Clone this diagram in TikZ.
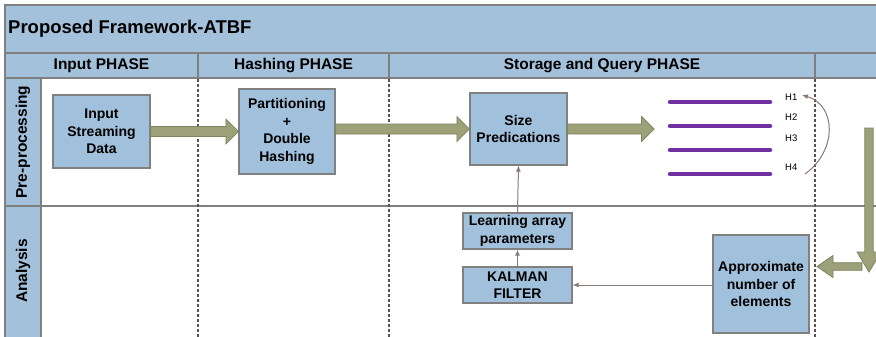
\documentclass[tikz,border=0pt]{standalone}
\usepackage{fontspec}
\setmainfont{Liberation Sans}
\usetikzlibrary{arrows.meta,calc}
\definecolor{hdr}{HTML}{A3C1DA}
\definecolor{boxfill}{HTML}{A0C0DC}
\definecolor{framec}{HTML}{808080}
\definecolor{olivef}{HTML}{9CA17A}
\definecolor{olived}{HTML}{7E8460}
\definecolor{dashc}{HTML}{5E5050}
\definecolor{thinc}{HTML}{8A7A76}
\definecolor{purp}{HTML}{7030A0}
% fat block arrows (from #1 to #2)
\newcommand\fatright[2]{\path[fatarr] let \p1=(#1),\p2=(#2) in
  (\x1,\y2+5pt) -- (\x2-12.5pt,\y2+5pt) -- (\x2-12.5pt,\y2+12.5pt) -- (\x2,\y2)
  -- (\x2-12.5pt,\y2-12.5pt) -- (\x2-12.5pt,\y2-5pt) -- (\x1,\y2-5pt) -- cycle;}
\newcommand\fatleft[2]{\path[fatarr] let \p1=(#1),\p2=(#2) in
  (\x1,\y2+3.8pt) -- (\x2+16pt,\y2+3.8pt) -- (\x2+16pt,\y2+11pt) -- (\x2,\y2)
  -- (\x2+16pt,\y2-11pt) -- (\x2+16pt,\y2-3.8pt) -- (\x1,\y2-3.8pt) -- cycle;}
\newcommand\fatdown[2]{\path[fatarr] let \p1=(#1),\p2=(#2) in
  (\x2-4.2pt,\y1) -- (\x2-4.2pt,\y2+20pt) -- (\x2-12pt,\y2+20pt) -- (\x2,\y2)
  -- (\x2+12pt,\y2+20pt) -- (\x2+4.2pt,\y2+20pt) -- (\x2+4.2pt,\y1) -- cycle;}
\begin{document}
\begin{tikzpicture}[x=1pt,y=-1pt,
  procbox/.style={draw=framec, line width=1.2pt, fill=boxfill, align=center,
    font=\fontsize{14}{17.5}\selectfont\bfseries, inner sep=0pt},
  phaselbl/.style={font=\fontsize{15.5}{18}\selectfont\bfseries},
  lanelbl/.style={font=\fontsize{15.5}{18}\selectfont\bfseries, rotate=90},
  hlbl/.style={font=\fontsize{9.5}{11}\selectfont, inner sep=0pt, anchor=west},
  fatarr/.style={fill=olivef, draw=olived, line width=0.8pt},
  thinarr/.style={draw=thinc, line width=1pt, -{Latex[length=6pt,width=5pt]}},
  lanediv/.style={draw=dashc, line width=2pt, dash pattern=on 3pt off 2pt},
  frameline/.style={draw=framec, line width=1.2pt},
  purpline/.style={draw=purp, line width=4.5pt, line cap=round}]
\useasboundingbox (0,0) rectangle (876,337);
\fill[white] (0,0) rectangle (876,337);
% frame
\path[fill=hdr, frameline] (5,5) rectangle (882,53);
\path[fill=hdr, frameline] (5,53) rectangle (882,78);
\path[fill=hdr, frameline] (5,78) rectangle (41,342);
\draw[frameline] (5,206) -- (882,206);
\draw[frameline] (198,53) -- (198,78);
\draw[frameline] (389,53) -- (389,78);
\draw[frameline] (815,53) -- (815,78);
\draw[lanediv] (198,79) -- (198,337);
\draw[lanediv] (389,79) -- (389,337);
\draw[lanediv] (815,79) -- (815,337);
% texts
\node[anchor=west, font=\fontsize{18.5}{20}\selectfont\bfseries, inner sep=0pt] (title) at (8,29) {Proposed Framework-ATBF};
\node[phaselbl] (ph1) at (101.5,66) {Input PHASE};
\node[phaselbl] (ph2) at (293.5,66) {Hashing PHASE};
\node[phaselbl] (ph3) at (602,66) {Storage and Query PHASE};
\node[lanelbl] (ln1) at (23,142) {Pre-processing};
\node[lanelbl] (ln2) at (23,271) {Analysis};
% boxes
\node[procbox, minimum width=97, minimum height=73] (inp) at (101.5,131.5) {Input\\Streaming\\Data};
\node[procbox, minimum width=96, minimum height=85] (part) at (287,131.5) {Partitioning\\+\\Double\\Hashing};
\node[procbox, minimum width=97, minimum height=72] (size) at (518.5,129) {Size\\Predications};
\node[procbox, minimum width=109, minimum height=36] (learn) at (517.5,231) {Learning array\\parameters};
\node[procbox, minimum width=109, minimum height=36] (kal) at (517.5,285) {KALMAN\\FILTER};
\node[procbox, minimum width=96, minimum height=98] (approx) at (761,284) {Approximate\\number of\\elements};
% hash lines
\draw[purpline] (670,102) -- (770,102);
\draw[purpline] (670,126) -- (770,126);
\draw[purpline] (670,150) -- (770,150);
\draw[purpline] (670,174) -- (770,174);
\node[hlbl] (h1) at (785,97) {H1};
\node[hlbl] (h2) at (785,117) {H2};
\node[hlbl] (h3) at (785,138) {H3};
\node[hlbl] (h4) at (785,167) {H4};
\coordinate (cs) at (805,174);
\coordinate (ce) at (802,95);
\draw[thinarr] (cs) .. controls (838,150) and (836,105) .. (ce);
% fat arrows
\coordinate (a3end) at (654,129);
\coordinate (dtop) at (869,128);
\coordinate (dbot) at (869,272);
\coordinate (lstart) at (862,266.5);
\coordinate (lend) at (817,266.5);
\fatright{inp.east}{part.west}
\fatright{part.east}{size.west}
\fatright{size.east}{a3end}
\fatleft{lstart}{lend}
\fatdown{dtop}{dbot}
% thin arrows
\draw[thinarr] (learn.north) -- (size.south);
\draw[thinarr] (kal.north) -- (learn.south);
\draw[thinarr] (approx.west |- kal.east) -- (kal.east);
\end{tikzpicture}
\end{document}
